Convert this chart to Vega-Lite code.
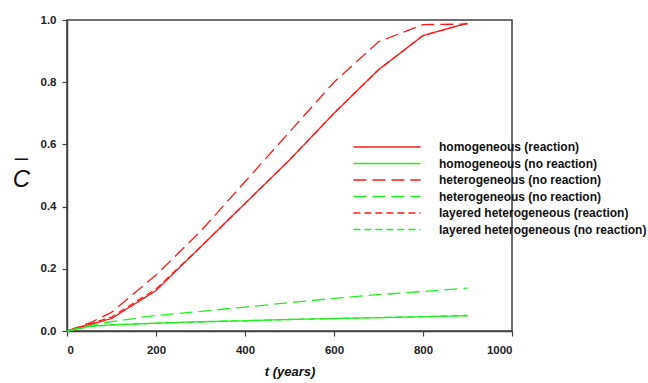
{
  "$schema": "https://vega.github.io/schema/vega-lite/v6.json",
  "width": 445,
  "height": 311,
  "autosize": "none",
  "padding": {"left": 67, "top": 20, "right": 136, "bottom": 52},
  "background": "white",
  "config": {
    "font": "Liberation Sans",
    "view": {"stroke": "#404040", "strokeWidth": 1.5},
    "axis": {"grid": false, "domainColor": "#404040", "domainWidth": 1.5, "tickColor": "#404040", "tickWidth": 1.2, "tickSize": 5, "labelFont": "Liberation Sans", "labelFontSize": 11.5, "labelFontWeight": "bold", "labelColor": "#222"}
  },
  "data": {"values": [
    {"t": 0, "c": 0, "s": "layered heterogeneous (no reaction)"},
    {"t": 50, "c": 0.014, "s": "layered heterogeneous (no reaction)"},
    {"t": 100, "c": 0.019, "s": "layered heterogeneous (no reaction)"},
    {"t": 200, "c": 0.025, "s": "layered heterogeneous (no reaction)"},
    {"t": 300, "c": 0.029, "s": "layered heterogeneous (no reaction)"},
    {"t": 400, "c": 0.033, "s": "layered heterogeneous (no reaction)"},
    {"t": 500, "c": 0.037, "s": "layered heterogeneous (no reaction)"},
    {"t": 600, "c": 0.040, "s": "layered heterogeneous (no reaction)"},
    {"t": 700, "c": 0.043, "s": "layered heterogeneous (no reaction)"},
    {"t": 800, "c": 0.046, "s": "layered heterogeneous (no reaction)"},
    {"t": 900, "c": 0.050, "s": "layered heterogeneous (no reaction)"},
    {"t": 0, "c": 0, "s": "layered heterogeneous (reaction)"},
    {"t": 50, "c": 0.022, "s": "layered heterogeneous (reaction)"},
    {"t": 100, "c": 0.045, "s": "layered heterogeneous (reaction)"},
    {"t": 200, "c": 0.135, "s": "layered heterogeneous (reaction)"},
    {"t": 300, "c": 0.27, "s": "layered heterogeneous (reaction)"},
    {"t": 400, "c": 0.41, "s": "layered heterogeneous (reaction)"},
    {"t": 500, "c": 0.55, "s": "layered heterogeneous (reaction)"},
    {"t": 600, "c": 0.70, "s": "layered heterogeneous (reaction)"},
    {"t": 700, "c": 0.84, "s": "layered heterogeneous (reaction)"},
    {"t": 800, "c": 0.95, "s": "layered heterogeneous (reaction)"},
    {"t": 900, "c": 0.99, "s": "layered heterogeneous (reaction)"},
    {"t": 0, "c": 0, "s": "homogeneous (reaction)"},
    {"t": 50, "c": 0.02, "s": "homogeneous (reaction)"},
    {"t": 100, "c": 0.04, "s": "homogeneous (reaction)"},
    {"t": 200, "c": 0.13, "s": "homogeneous (reaction)"},
    {"t": 300, "c": 0.27, "s": "homogeneous (reaction)"},
    {"t": 400, "c": 0.41, "s": "homogeneous (reaction)"},
    {"t": 500, "c": 0.55, "s": "homogeneous (reaction)"},
    {"t": 600, "c": 0.70, "s": "homogeneous (reaction)"},
    {"t": 700, "c": 0.84, "s": "homogeneous (reaction)"},
    {"t": 800, "c": 0.95, "s": "homogeneous (reaction)"},
    {"t": 900, "c": 0.99, "s": "homogeneous (reaction)"},
    {"t": 0, "c": 0, "s": "homogeneous (no reaction)"},
    {"t": 50, "c": 0.015, "s": "homogeneous (no reaction)"},
    {"t": 100, "c": 0.02, "s": "homogeneous (no reaction)"},
    {"t": 200, "c": 0.025, "s": "homogeneous (no reaction)"},
    {"t": 300, "c": 0.03, "s": "homogeneous (no reaction)"},
    {"t": 400, "c": 0.033, "s": "homogeneous (no reaction)"},
    {"t": 500, "c": 0.037, "s": "homogeneous (no reaction)"},
    {"t": 600, "c": 0.040, "s": "homogeneous (no reaction)"},
    {"t": 700, "c": 0.043, "s": "homogeneous (no reaction)"},
    {"t": 800, "c": 0.046, "s": "homogeneous (no reaction)"},
    {"t": 900, "c": 0.049, "s": "homogeneous (no reaction)"},
    {"t": 0, "c": 0, "s": "heterogeneous (reaction)"},
    {"t": 50, "c": 0.025, "s": "heterogeneous (reaction)"},
    {"t": 100, "c": 0.06, "s": "heterogeneous (reaction)"},
    {"t": 200, "c": 0.18, "s": "heterogeneous (reaction)"},
    {"t": 300, "c": 0.32, "s": "heterogeneous (reaction)"},
    {"t": 400, "c": 0.48, "s": "heterogeneous (reaction)"},
    {"t": 500, "c": 0.64, "s": "heterogeneous (reaction)"},
    {"t": 600, "c": 0.80, "s": "heterogeneous (reaction)"},
    {"t": 700, "c": 0.93, "s": "heterogeneous (reaction)"},
    {"t": 800, "c": 0.985, "s": "heterogeneous (reaction)"},
    {"t": 900, "c": 0.987, "s": "heterogeneous (reaction)"},
    {"t": 0, "c": 0, "s": "heterogeneous (no reaction)"},
    {"t": 50, "c": 0.017, "s": "heterogeneous (no reaction)"},
    {"t": 100, "c": 0.03, "s": "heterogeneous (no reaction)"},
    {"t": 200, "c": 0.05, "s": "heterogeneous (no reaction)"},
    {"t": 300, "c": 0.063, "s": "heterogeneous (no reaction)"},
    {"t": 400, "c": 0.077, "s": "heterogeneous (no reaction)"},
    {"t": 500, "c": 0.091, "s": "heterogeneous (no reaction)"},
    {"t": 600, "c": 0.105, "s": "heterogeneous (no reaction)"},
    {"t": 700, "c": 0.117, "s": "heterogeneous (no reaction)"},
    {"t": 800, "c": 0.127, "s": "heterogeneous (no reaction)"},
    {"t": 900, "c": 0.138, "s": "heterogeneous (no reaction)"}
  ]},
  "mark": {"type": "line", "strokeWidth": 1.3, "clip": false},
  "encoding": {
    "x": {"field": "t", "type": "quantitative",
      "scale": {"domain": [0, 1000], "nice": false, "zero": true},
      "axis": {"values": [0, 200, 400, 600, 800, 1000], "format": "d", "labelPadding": 8, "title": "t (years)", "titleFont": "Liberation Sans", "titleFontSize": 13, "titleFontWeight": "bold", "titleFontStyle": "italic", "titleColor": "#111", "titlePadding": 10}},
    "y": {"field": "c", "type": "quantitative",
      "scale": {"domain": [0, 1], "nice": false},
      "axis": {"values": [0, 0.2, 0.4, 0.6, 0.8, 1.0], "format": ".1f", "labelPadding": 6, "title": ["–", "C"], "titleAngle": 0, "titleFont": "Liberation Sans", "titleFontSize": 24, "titleFontStyle": "italic", "titleFontWeight": "normal", "titleColor": "#111", "titleLineHeight": 22, "titleAlign": "center", "titleBaseline": "middle", "titleX": -46, "titleY": 137}},
    "color": {"field": "s", "type": "nominal",
      "scale": {"domain": ["homogeneous (reaction)", "homogeneous (no reaction)", "heterogeneous (reaction)", "heterogeneous (no reaction)", "layered heterogeneous (reaction)", "layered heterogeneous (no reaction)"],
        "range": ["#ff1a1a", "#22ee22", "#ff1a1a", "#22ee22", "#ff1a1a", "#22ee22"]},
      "legend": {"orient": "none", "legendX": 311, "legendY": 118, "title": null, "symbolType": "M-4.2,0H4.2", "symbolSize": 256, "symbolStrokeWidth": 1.3, "labelOffset": 43, "labelFont": "Liberation Sans", "labelFontSize": 12, "labelFontWeight": "bold", "labelColor": "#111", "rowPadding": 1.5, "padding": 0, "labelLimit": 400,
        "labelExpr": "datum.value == 'heterogeneous (reaction)' ? 'heterogeneous (no reaction)' : datum.value"}},
    "strokeDash": {"field": "s", "type": "nominal",
      "scale": {"domain": ["homogeneous (reaction)", "homogeneous (no reaction)", "heterogeneous (reaction)", "heterogeneous (no reaction)", "layered heterogeneous (reaction)", "layered heterogeneous (no reaction)"],
        "range": [[1, 0], [1, 0], [13, 6], [13, 6], [7, 4], [7, 4]]},
      "legend": null}
  }
}
